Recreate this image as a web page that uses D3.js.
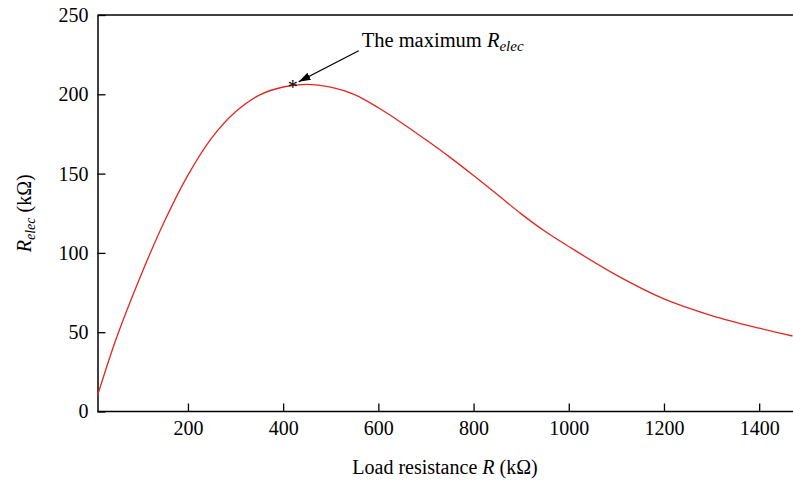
<!DOCTYPE html>
<html>
<head>
<meta charset="utf-8">
<script src="https://cdn.jsdelivr.net/npm/d3@7"></script>
<style>
  body { margin: 0; background: #fff; }
  svg text { font-family: "Liberation Serif", "DejaVu Serif", serif; }
</style>
</head>
<body>
<svg id="chart"></svg>
<script>
// load resistance R (kOhm) and the electrical resistance R_elec (kOhm)
const loadR = [10, 50, 100, 150, 200, 250, 300, 350, 400, 450, 500, 550, 600, 650,
    700, 750, 800, 850, 900, 950, 1000, 1100, 1200, 1300, 1400, 1470];
const rElec = [10, 46.5, 85, 119.5, 149, 172.5, 189, 199.5, 204.6, 206.2, 204.5, 199.8, 191.5, 181.8,
    171.3, 160.4, 148.8, 136.8, 124.6, 113.6, 104, 86, 71, 60.5, 52.5, 47.6];
const xTicks = [200, 400, 600, 800, 1000, 1200, 1400];
const yTicks = [0, 50, 100, 150, 200, 250];
const peak = { r: 420, v: 206 };

const w = 793, h = 481;
const mLeft = 97.5, mRight = 792.5, mTop = 15, mBottom = 411.5;

const svg = d3.select('#chart')
    .attr('width', w)
    .attr('height', h);

const x = d3.scaleLinear().domain([10, 1470]).range([mLeft, mRight]);
const y = d3.scaleLinear().domain([0, 250]).range([mBottom, mTop]);

// top frame line
svg.append('line')
    .attr('x1', mLeft).attr('x2', w)
    .attr('y1', mTop).attr('y2', mTop)
    .attr('stroke', '#000').attr('stroke-width', 1.5);

const xAxis = svg.append('g')
    .attr('transform', 'translate(0,' + mBottom + ')')
    .call(d3.axisBottom(x).tickValues(xTicks).tickFormat(d3.format('d'))
        .tickSizeInner(-8).tickSizeOuter(0).tickPadding(9));

const yAxis = svg.append('g')
    .attr('transform', 'translate(' + mLeft + ',0)')
    .call(d3.axisLeft(y).tickValues(yTicks).tickFormat(d3.format('d'))
        .tickSizeInner(-8).tickSizeOuter(0).tickPadding(9));

[xAxis, yAxis].forEach(g => {
    g.select('.domain').attr('stroke', '#000').attr('stroke-width', 1.5);
    g.selectAll('.tick line').attr('stroke', '#000').attr('stroke-width', 1.3);
    g.selectAll('.tick text')
        .attr('fill', '#000')
        .style('font-size', '20px')
        .style('font-family', '"Liberation Serif", serif');
});
xAxis.select('.domain').attr('d', 'M' + mLeft + ',0H' + w);

// curve
const line = d3.line()
    .x((d, i) => x(loadR[i]))
    .y(d => y(d))
    .curve(d3.curveCatmullRom.alpha(0.5));

svg.append('path')
    .datum(rElec)
    .attr('d', line)
    .attr('fill', 'none')
    .attr('stroke', '#e3261e')
    .attr('stroke-width', 1.3);

// axis titles
const xt = svg.append('text')
    .attr('x', 445).attr('y', 474)
    .attr('text-anchor', 'middle')
    .style('font-size', '20px');
xt.append('tspan').text('Load resistance ');
xt.append('tspan').style('font-style', 'italic').text('R');
xt.append('tspan').text(' (k\u03A9)');

const yt = svg.append('text')
    .attr('transform', 'translate(31,' + ((mTop + mBottom) / 2) + ') rotate(-90)')
    .attr('text-anchor', 'middle')
    .style('font-size', '20px');
yt.append('tspan').style('font-style', 'italic').text('R');
yt.append('tspan').style('font-style', 'italic').style('font-size', '14px').attr('dy', 4).text('elec');
yt.append('tspan').attr('dy', -4).text(' (k\u03A9)');

// annotation of the maximum
const px = x(peak.r), py = y(peak.v);

svg.append('text')
    .attr('x', px).attr('y', py + 9)
    .attr('text-anchor', 'middle')
    .style('font-size', '20px')
    .text('*');

svg.append('defs').append('marker')
    .attr('id', 'arrow')
    .attr('viewBox', '0 0 12 8')
    .attr('refX', 12).attr('refY', 4)
    .attr('markerWidth', 12).attr('markerHeight', 8)
    .attr('markerUnits', 'userSpaceOnUse')
    .attr('orient', 'auto')
    .append('path')
    .attr('d', 'M0,0L12,4L0,8Z')
    .attr('fill', '#000');

svg.append('line')
    .attr('x1', px + 66).attr('y1', py - 34)
    .attr('x2', px + 6).attr('y2', py - 3)
    .attr('stroke', '#000').attr('stroke-width', 1.3)
    .attr('marker-end', 'url(#arrow)');

const at = svg.append('text')
    .attr('x', px + 69).attr('y', py - 38)
    .style('font-size', '20.5px');
at.append('tspan').text('The maximum ');
at.append('tspan').style('font-style', 'italic').text('R');
at.append('tspan').style('font-style', 'italic').style('font-size', '15px').attr('dy', 4).text('elec');
</script>
</body>
</html>
